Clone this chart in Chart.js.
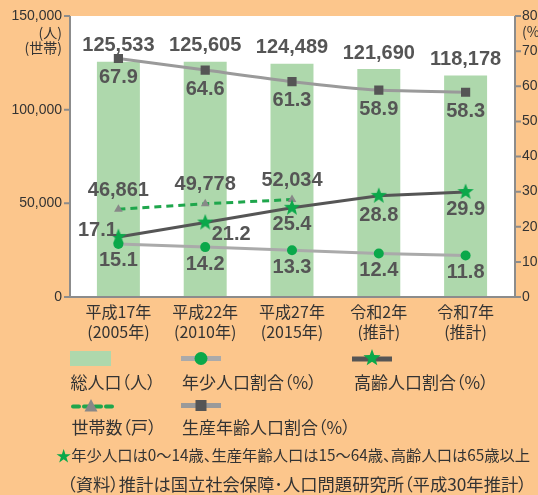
<!DOCTYPE html>
<html lang="ja">
<head>
<meta charset="utf-8">
<script src="https://cdn.jsdelivr.net/npm/chart.js@4.4.1/dist/chart.umd.min.js"></script>
<style>
  html, body { margin: 0; padding: 0; }
  body {
    width: 538px; height: 495px; position: relative; overflow: hidden;
    background: #fcc68c; color: #333;
    font-family: "Noto Sans CJK JP", sans-serif;
  }
  #wrap { position: absolute; left: 0; top: 0; width: 538px; height: 345px; }
  .lg { position: absolute; font-size: 17px; line-height: 17px; white-space: nowrap; font-feature-settings: "palt"; }
  #note { font-size: 15.3px; line-height: 15px; }
  #note span { color: #0ba84a; }
  #source { font-size: 17.3px; }
  #keys { position: absolute; left: 0; top: 0; }
</style>
</head>
<body>
<div id="wrap"><canvas id="popChart"></canvas></div>

<svg id="keys" width="538" height="495"></svg>
<div class="lg" style="left:70.5px;top:372.5px">総人口（人）</div>
<div class="lg" style="left:182px;top:372.5px">年少人口割合（%）</div>
<div class="lg" style="left:354px;top:372.5px">高齢人口割合（%）</div>
<div class="lg" style="left:71.5px;top:417.5px">世帯数（戸）</div>
<div class="lg" style="left:182px;top:417.5px">生産年齢人口割合（%）</div>
<div class="lg" id="note" style="left:56px;top:446.5px"><span>★</span>年少人口は0～14歳、生産年齢人口は15～64歳、高齢人口は65歳以上</div>
<div class="lg" id="source" style="left:67px;top:474.5px">（資料）推計は国立社会保障･人口問題研究所（平成30年推計）</div>

<script>
// data
const years = [["平成17年", "(2005年)"], ["平成22年", "(2010年)"], ["平成27年", "(2015年)"], ["令和2年", "(推計)"], ["令和7年", "(推計)"]];
const totalPop = [125533, 125605, 124489, 121690, 118178];
const households = [46861, 49778, 52034, null, null];
const workingRatio = [67.9, 64.6, 61.3, 58.9, 58.3];
const elderlyRatio = [17.1, 21.2, 25.4, 28.8, 29.9];
const youthRatio = [15.1, 14.2, 13.3, 12.4, 11.8];
const popAxis = { max: 150000, step: 50000 };
const pctAxis = { max: 80, step: 10 };

const GREEN = "#0ba84a";
const BAR = "#aed8ac";
const AXIS = "#8c8c8c";
// plot frame sits a little outside the category area
const FRAME = { left: 70, right: 515 };

const starPoints = (cx, cy, R, r) => {
  const pts = [];
  for (let i = 0; i < 10; i++) {
    const a = -Math.PI / 2 + i * Math.PI / 5;
    const rad = i % 2 ? r : R;
    pts.push([cx + rad * Math.cos(a), cy + rad * Math.sin(a)]);
  }
  return pts;
};

// filled star for the elderly line
const starImg = document.createElement("canvas");
starImg.width = 18; starImg.height = 18;
(() => {
  const c = starImg.getContext("2d");
  c.fillStyle = GREEN;
  c.beginPath();
  starPoints(9, 9, 8.5, 3.6).forEach(([x, y], i) => i ? c.lineTo(x, y) : c.moveTo(x, y));
  c.closePath();
  c.fill();
})();

const fmt = (v) => v.toLocaleString("en-US");
const fmt1 = (v) => v.toFixed(1);

const plotFrame = {
  id: "plotFrame",
  beforeDraw(chart) {
    const { ctx, chartArea: a } = chart;
    ctx.save();
    ctx.fillStyle = "#fff";
    ctx.fillRect(FRAME.left, a.top, FRAME.right - FRAME.left, a.bottom - a.top);
    ctx.restore();
  },
  afterDraw(chart) {
    const { ctx, chartArea: a, scales } = chart;
    ctx.save();
    ctx.strokeStyle = AXIS;
    ctx.lineWidth = 2;
    ctx.beginPath();
    ctx.moveTo(FRAME.left, a.top);
    ctx.lineTo(FRAME.left, a.bottom);
    ctx.lineTo(FRAME.right, a.bottom);
    ctx.lineTo(FRAME.right, a.top);
    scales.yPop.ticks.forEach((t) => {
      const y = scales.yPop.getPixelForValue(t.value);
      ctx.moveTo(FRAME.left - 6, y);
      ctx.lineTo(FRAME.left, y);
    });
    scales.yPct.ticks.forEach((t) => {
      const y = scales.yPct.getPixelForValue(t.value);
      ctx.moveTo(FRAME.right, y);
      ctx.lineTo(FRAME.right + 6, y);
    });
    ctx.stroke();
    ctx.restore();
  }
};

const valueLabels = {
  id: "valueLabels",
  afterDatasetsDraw(chart) {
    const ctx = chart.ctx;
    ctx.save();
    ctx.font = 'bold 20px "Liberation Sans", sans-serif';
    ctx.fillStyle = "#555";
    ctx.textAlign = "center";
    ctx.textBaseline = "middle";
    chart.data.datasets.forEach((ds, i) => {
      if (!ds.labelOffset) return;
      chart.getDatasetMeta(i).data.forEach((el, j) => {
        const v = ds.data[j];
        if (v == null) return;
        const off = Array.isArray(ds.labelOffset[0]) ? ds.labelOffset[j] : ds.labelOffset;
        ctx.fillText(ds.labelFormat(v), el.x + off[0], el.y + off[1]);
      });
    });
    // axis units
    ctx.font = '14px "Noto Sans CJK JP", sans-serif';
    ctx.fillStyle = "#333";
    ctx.textAlign = "right";
    ctx.fillText("(人)", 62, 33);
    ctx.fillText("(世帯)", 62, 48);
    ctx.textAlign = "left";
    ctx.fillText("(%)", 522, 32);
    ctx.restore();
  }
};

const tickFont = { family: '"Liberation Sans", sans-serif', size: 14 };

new Chart(document.getElementById("popChart"), {
  data: {
    labels: years,
    datasets: [
      {
        type: "line", label: "生産年齢人口割合（%）", data: workingRatio, yAxisID: "yPct", order: 1,
        borderColor: "#9a9a9a", borderWidth: 3, tension: 0.2,
        pointStyle: "rect", pointRadius: 6.5, pointBackgroundColor: "#555", pointBorderWidth: 0,
        labelOffset: [0, 19], labelFormat: fmt1
      },
      {
        type: "line", label: "高齢人口割合（%）", data: elderlyRatio, yAxisID: "yPct", order: 2,
        borderColor: "#555", borderWidth: 3, tension: 0,
        pointStyle: starImg,
        labelOffset: [[-21, -6], [26, 12], [0, 17], [0, 20], [0, 18]], labelFormat: fmt1
      },
      {
        type: "line", label: "年少人口割合（%）", data: youthRatio, yAxisID: "yPct", order: 3,
        borderColor: "#aaa", borderWidth: 3, tension: 0,
        pointStyle: "circle", pointRadius: 5, pointBackgroundColor: GREEN, pointBorderWidth: 0,
        labelOffset: [0, 17], labelFormat: fmt1
      },
      {
        type: "line", label: "世帯数（戸）", data: households, yAxisID: "yPop", order: 4,
        borderColor: "#1fa64c", borderWidth: 3, borderDash: [7, 5], tension: 0,
        pointStyle: "triangle", pointRadius: 5, pointBackgroundColor: "#888", pointBorderWidth: 0,
        labelOffset: [0, -19], labelFormat: fmt
      },
      {
        type: "bar", label: "総人口（人）", data: totalPop, yAxisID: "yPop", order: 5,
        backgroundColor: BAR, barPercentage: 0.495, categoryPercentage: 1,
        labelOffset: [0, -16], labelFormat: fmt
      }
    ]
  },
  options: {
    responsive: true,
    maintainAspectRatio: false,
    animation: false,
    layout: { padding: { top: 16 } },
    plugins: { legend: { display: false }, tooltip: { enabled: false } },
    scales: {
      x: {
        grid: { drawOnChartArea: false, drawTicks: false },
        border: { display: false },
        ticks: { color: "#333", padding: 5, font: { family: '"Noto Sans CJK JP", sans-serif', size: 16, lineHeight: 1.25 } },
        afterFit: (s) => { s.height = 48; }
      },
      yPop: {
        position: "left", min: 0, max: popAxis.max,
        grid: { display: false, tickLength: 8 }, border: { display: false },
        ticks: { stepSize: popAxis.step, color: "#333", padding: 5, font: tickFont, callback: (v) => fmt(v) },
        afterFit: (s) => { s.width = 75; }
      },
      yPct: {
        position: "right", min: 0, max: pctAxis.max,
        grid: { display: false, tickLength: 8 }, border: { display: false },
        ticks: { stepSize: pctAxis.step, color: "#333", padding: 5, font: tickFont },
        afterFit: (s) => { s.width = 29; }
      }
    }
  },
  plugins: [plotFrame, valueLabels]
});

// legend keys
const svgNS = "http://www.w3.org/2000/svg";
const keys = document.getElementById("keys");
const add = (tag, attrs) => {
  const el = document.createElementNS(svgNS, tag);
  Object.entries(attrs).forEach(([k, v]) => el.setAttribute(k, v));
  keys.appendChild(el);
};
add("rect", { x: 70, y: 351, width: 41, height: 15, fill: BAR });
add("line", { x1: 181, y1: 358.5, x2: 221, y2: 358.5, stroke: "#aaa", "stroke-width": 5 });
add("circle", { cx: 201, cy: 358.5, r: 6.5, fill: GREEN });
add("line", { x1: 352, y1: 359, x2: 392, y2: 359, stroke: "#555", "stroke-width": 5 });
add("polygon", { points: starPoints(372, 358, 9, 3.8).map((p) => p.join(",")).join(" "), fill: GREEN });
add("line", { x1: 73, y1: 406.5, x2: 112, y2: 406.5, stroke: "#1fa64c", "stroke-width": 4, "stroke-dasharray": "6 5", "stroke-linecap": "round" });
add("polygon", { points: "91,399 97.5,411.5 84.5,411.5", fill: "#888" });
add("line", { x1: 181, y1: 405.5, x2: 221, y2: 405.5, stroke: "#9a9a9a", "stroke-width": 5 });
add("rect", { x: 195.5, y: 400, width: 11, height: 11, fill: "#555" });
</script>
</body>
</html>
